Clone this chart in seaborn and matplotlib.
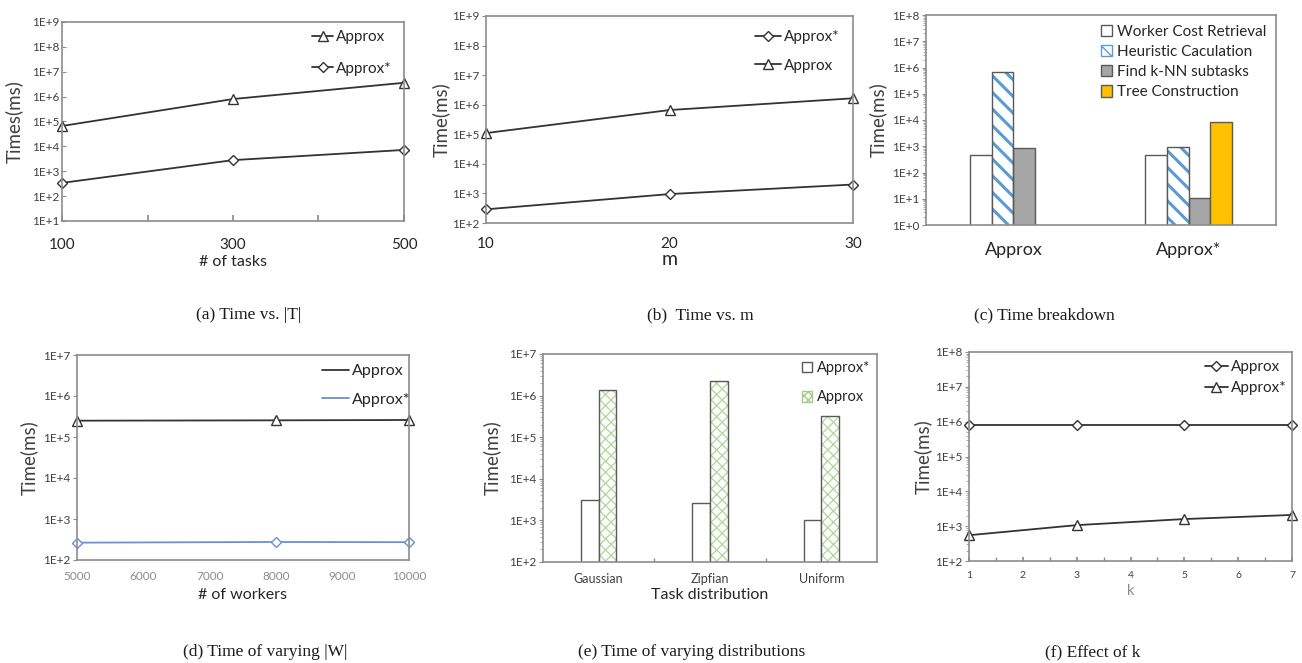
import numpy as np
import pandas as pd
import matplotlib
matplotlib.use('Agg')
import matplotlib.pyplot as plt
from matplotlib.ticker import FuncFormatter, FixedLocator, LogLocator, NullFormatter, NullLocator
from matplotlib.lines import Line2D
from matplotlib.patches import Patch, Rectangle
import seaborn as sns

# Datos
a_tareas = [100, 300, 500]
a_approx = [6.6e4, 8.0e5, 3.6e6]
a_approx_est = [340, 2800, 7200]

b_m = [10, 20, 30]
b_approx = [1.1e5, 6.6e5, 1.65e6]
b_approx_est = [290, 950, 2000]

c_metodos = ['Approx', 'Approx*']
c_partes = ['Worker Cost Retrieval', 'Heuristic Caculation', 'Find k-NN subtasks', 'Tree Construction']
c_worker = [470, 470]
c_heuristica = [6.6e5, 940]
c_knn = [890, 11]
c_arbol = [0, 8200]

d_trabajadores = [5000, 8000, 10000]
d_approx = [2.5e5, 2.55e5, 2.6e5]
d_approx_est = [265, 275, 272]

e_distribuciones = ['Gaussian', 'Zipfian', 'Uniform']
e_series = ['Approx*', 'Approx']
e_approx_est = [3100, 2600, 1050]
e_approx = [1.4e6, 2.2e6, 3.3e5]

f_k = [1, 3, 5, 7]
f_approx = [8.2e5, 8.2e5, 8.2e5, 8.2e5]
f_approx_est = [550, 1070, 1600, 2100]

sns.set_theme(style='white')
plt.rcParams['font.family'] = ['Lato', 'DejaVu Sans']

W, H = 1302, 663
fig = plt.figure(figsize=(W / 100, H / 100), dpi=100)

LINEA = '#333333'
MARCO = '#8c8c8c'
TEXTO = '#404040'
BORDE = '#595959'


def crear_ejes(izq, der, arriba, abajo):
    return fig.add_axes([izq / W, 1 - abajo / H, (der - izq) / W, (abajo - arriba) / H])


def formato_log(ax, exp_min, exp_max, menores=False, dir_y='out'):
    ax.set_yscale('log')
    ax.set_ylim(10.0 ** exp_min, 10.0 ** exp_max)
    # solo las decadas dentro del rango, para no dejar etiquetas fuera
    ax.yaxis.set_major_locator(FixedLocator(10.0 ** np.arange(exp_min, exp_max + 1)))
    ax.yaxis.set_major_formatter(FuncFormatter(lambda v, p: f'1E+{int(round(np.log10(v)))}'))
    if menores:
        ax.yaxis.set_minor_locator(LogLocator(base=10, subs=np.arange(2, 10), numticks=20))
    else:
        ax.yaxis.set_minor_locator(NullLocator())
    ax.yaxis.set_minor_formatter(NullFormatter())
    for s in ax.spines.values():
        s.set_color(MARCO)
        s.set_linewidth(1.2)
    ax.tick_params(axis='y', which='major', direction=dir_y, length=3, width=0.8, color=MARCO,
                   labelsize=8.5, labelcolor=TEXTO, pad=2, left=True)
    ax.tick_params(axis='y', which='minor', direction='out', length=2, width=0.5, color=MARCO, left=True)


def etiqueta_y(ax, texto, x):
    # x es el borde derecho de la etiqueta girada, en fraccion de los ejes
    ax.set_ylabel(texto, fontsize=13.5, color=TEXTO)
    ax.yaxis.set_label_coords(x, 0.5)


def leyenda(ax, handles, labels, x, y, size, spacing, hl=1.6):
    ax.legend(handles, labels, loc='upper left', bbox_to_anchor=(x / W, 1 - y / H),
              bbox_transform=fig.transFigure, frameon=False, borderpad=0, borderaxespad=0,
              fontsize=size, labelspacing=spacing, handletextpad=0.2, handlelength=hl,
              labelcolor='#262626')


def linea(ax, x, y, marcador, tam, color=LINEA):
    sns.lineplot(x=x, y=y, ax=ax, color=color, lw=1.3, marker=marcador, markersize=tam,
                 markerfacecolor='white', markeredgecolor=color, markeredgewidth=1,
                 clip_on=False)


def caption(x, y, texto):
    fig.text(x / W, 1 - y / H, texto, ha='center', va='center',
             family=['Liberation Serif'], fontsize=12.5, color='#1a1a1a')


# (a) Time vs |T|
ax = crear_ejes(62, 404, 22, 221)
linea(ax, a_tareas, a_approx, '^', 6.5)
linea(ax, a_tareas, a_approx_est, 'D', 5)
formato_log(ax, 1, 9, dir_y='in')
ax.set_xlim(100, 500)
ax.set_xticks([100, 200, 300, 400, 500])
ax.set_xticklabels(['100', '', '300', '', '500'])
ax.tick_params(axis='x', direction='in', length=4, color=MARCO, labelsize=11, labelcolor='#262626', pad=12.5, bottom=True)
ax.set_xlabel('# of tasks', fontsize=11.5, color='#262626', labelpad=2)
etiqueta_y(ax, 'Times(ms)', -0.114)
h = [Line2D([], [], color=LINEA, lw=1.3, marker='^', ms=6.5, mfc='white', mec=LINEA),
     Line2D([], [], color=LINEA, lw=1.3, marker='D', ms=5, mfc='white', mec=LINEA)]
leyenda(ax, h, ['Approx', 'Approx*'], 312, 30, 11, 1.15, hl=1.4)

# (b) Time vs m
ax = crear_ejes(486, 853, 16, 223)
linea(ax, b_m, b_approx, '^', 6.5)
linea(ax, b_m, b_approx_est, 'D', 5)
formato_log(ax, 2, 9)
ax.set_xlim(10, 30)
ax.set_xticks(b_m)
ax.tick_params(axis='x', length=0, labelsize=11, labelcolor='#262626', pad=10)
ax.set_xlabel('m', fontsize=14, color='#262626', labelpad=0)
etiqueta_y(ax, 'Time(ms)', -0.098)
h = [Line2D([], [], color=LINEA, lw=1.3, marker='D', ms=5, mfc='white', mec=LINEA),
     Line2D([], [], color=LINEA, lw=1.3, marker='^', ms=6.5, mfc='white', mec=LINEA)]
leyenda(ax, h, ['Approx*', 'Approx'], 755, 30, 11, 0.95, hl=1.7)

# (c) Time breakdown
ax = crear_ejes(926, 1276, 15, 225)
ax.set_yscale('log')
df_c = pd.DataFrame({
    'metodo': c_metodos * 4,
    'parte': np.repeat(c_partes, len(c_metodos)),
    'tiempo': c_worker + c_heuristica + c_knn + c_arbol,
})
colores_c = ['#ffffff', '#ffffff', '#a6a6a6', '#ffc000']
sns.barplot(data=df_c, x='metodo', y='tiempo', hue='parte', hue_order=c_partes,
            palette=colores_c, width=0.5, ax=ax, edgecolor=BORDE, linewidth=1, legend=False,
            saturation=1)
for barra in ax.containers[1]:
    barra.set_hatch('\\\\')
    barra.set_edgecolor('#5b9bd5')
    barra.set_linewidth(0)
    if hasattr(barra, 'set_hatch_linewidth'):
        barra.set_hatch_linewidth(2.2)
    ax.add_patch(Rectangle(barra.get_xy(), barra.get_width(), barra.get_height(),
                           fill=False, edgecolor=BORDE, lw=1))
formato_log(ax, 0, 8, menores=True)
ax.set_xlim(-0.5, 1.5)
ax.tick_params(axis='x', length=0, labelsize=13, labelcolor='#262626', pad=12)
ax.set_xlabel('')
etiqueta_y(ax, 'Time(ms)', -0.111)
h = [Patch(facecolor='#ffffff', edgecolor=BORDE),
     Patch(facecolor='#ffffff', edgecolor='#5b9bd5', hatch='\\\\\\'),
     Patch(facecolor='#a6a6a6', edgecolor=BORDE),
     Patch(facecolor='#ffc000', edgecolor=BORDE)]
ax.legend(h, c_partes, loc='upper left', bbox_to_anchor=(1101 / W, 1 - 25 / H),
          bbox_transform=fig.transFigure, frameon=False, borderpad=0, borderaxespad=0,
          fontsize=11, labelspacing=0.4, handletextpad=0.3, handlelength=0.75, handleheight=0.75,
          labelcolor='#262626')

# (d) Time of varying |W|
ax = crear_ejes(77, 409, 355, 560)
AZUL = '#6a8fd6'
linea(ax, d_trabajadores, d_approx, '^', 7.5)
linea(ax, d_trabajadores, d_approx_est, 'D', 5.5, color=AZUL)
formato_log(ax, 2, 7)
ax.set_xlim(5000, 10000)
ax.set_xticks(np.arange(5000, 10001, 1000))
ax.tick_params(axis='x', length=0, labelsize=8.5, labelcolor='#8c8c8c', pad=8)
ax.set_xlabel('# of workers', fontsize=11.5, color='#262626', labelpad=4)
etiqueta_y(ax, 'Time(ms)', -0.117)
h = [Line2D([], [], color=LINEA, lw=1.3), Line2D([], [], color=AZUL, lw=1.3)]
leyenda(ax, h, ['Approx', 'Approx*'], 322, 364, 11.5, 0.9, hl=1.7)

# (e) Time of varying distributions
ax = crear_ejes(543, 877, 354, 562)
ax.set_yscale('log')
df_e = pd.DataFrame({
    'dist': e_distribuciones * 2,
    'serie': np.repeat(e_series, len(e_distribuciones)),
    'tiempo': e_approx_est + e_approx,
})
sns.barplot(data=df_e, x='dist', y='tiempo', hue='serie', hue_order=e_series,
            palette=['#ffffff', '#ffffff'], width=0.32, ax=ax, edgecolor=BORDE, linewidth=1,
            legend=False, saturation=1)
for barra in ax.containers[1]:
    barra.set_hatch('xxx')
    barra.set_edgecolor('#b5d9a0')
    barra.set_linewidth(0)
    if hasattr(barra, 'set_hatch_linewidth'):
        barra.set_hatch_linewidth(1.0)
    ax.add_patch(Rectangle(barra.get_xy(), barra.get_width(), barra.get_height(),
                           fill=False, edgecolor=BORDE, lw=1))
formato_log(ax, 2, 7, menores=True)
ax.set_xlim(-0.5, 2.5)
ax.set_xticks([0.5, 1.5], minor=True)
ax.tick_params(axis='x', which='major', length=0, labelsize=9, labelcolor=TEXTO, pad=8)
ax.tick_params(axis='x', which='minor', direction='in', length=3, color=MARCO, bottom=True)
ax.set_xlabel('Task distribution', fontsize=11.5, color='#262626', labelpad=2)
etiqueta_y(ax, 'Time(ms)', -0.126)
h = [Patch(facecolor='#ffffff', edgecolor=BORDE),
     Patch(facecolor='#ffffff', edgecolor='#9fcf86', hatch='xxxx')]
ax.legend(h, e_series, loc='upper left', bbox_to_anchor=(802 / W, 1 - 361 / H),
          bbox_transform=fig.transFigure, frameon=False, borderpad=0, borderaxespad=0,
          fontsize=10.5, labelspacing=1.05, handletextpad=0.3, handlelength=0.7, handleheight=0.75,
          labelcolor='#262626')

# (f) Effect of k
ax = crear_ejes(969, 1292, 352, 561)
linea(ax, f_k, f_approx, 'D', 5.5)
linea(ax, f_k, f_approx_est, '^', 7)
formato_log(ax, 2, 8, menores=True)
ax.set_xlim(1, 7)
ax.set_xticks(np.arange(1, 8))
ax.set_xticks(np.arange(1.5, 7, 1), minor=True)
ax.tick_params(axis='x', which='both', direction='in', length=3, color=MARCO, labelsize=7.5,
               labelcolor=TEXTO, pad=7, bottom=True)
ax.set_xlabel('k', fontsize=10.5, color='#8c8c8c', labelpad=3)
etiqueta_y(ax, 'Time(ms)', -0.115)
h = [Line2D([], [], color=LINEA, lw=1.3, marker='D', ms=5.5, mfc='white', mec=LINEA),
     Line2D([], [], color=LINEA, lw=1.3, marker='^', ms=7, mfc='white', mec=LINEA)]
leyenda(ax, h, ['Approx', 'Approx*'], 1205, 360, 11, 0.45, hl=1.5)

# Leyendas de cada subfigura
caption(249, 315, '(a) Time vs. |T|')
caption(700, 315, '(b)  Time vs. m')
caption(1044, 315, '(c) Time breakdown')
caption(265, 652, '(d) Time of varying |W|')
caption(692, 652, '(e) Time of varying distributions')
caption(1093, 652, '(f) Effect of k')

fig.savefig('out.png', dpi=100, facecolor='white')
